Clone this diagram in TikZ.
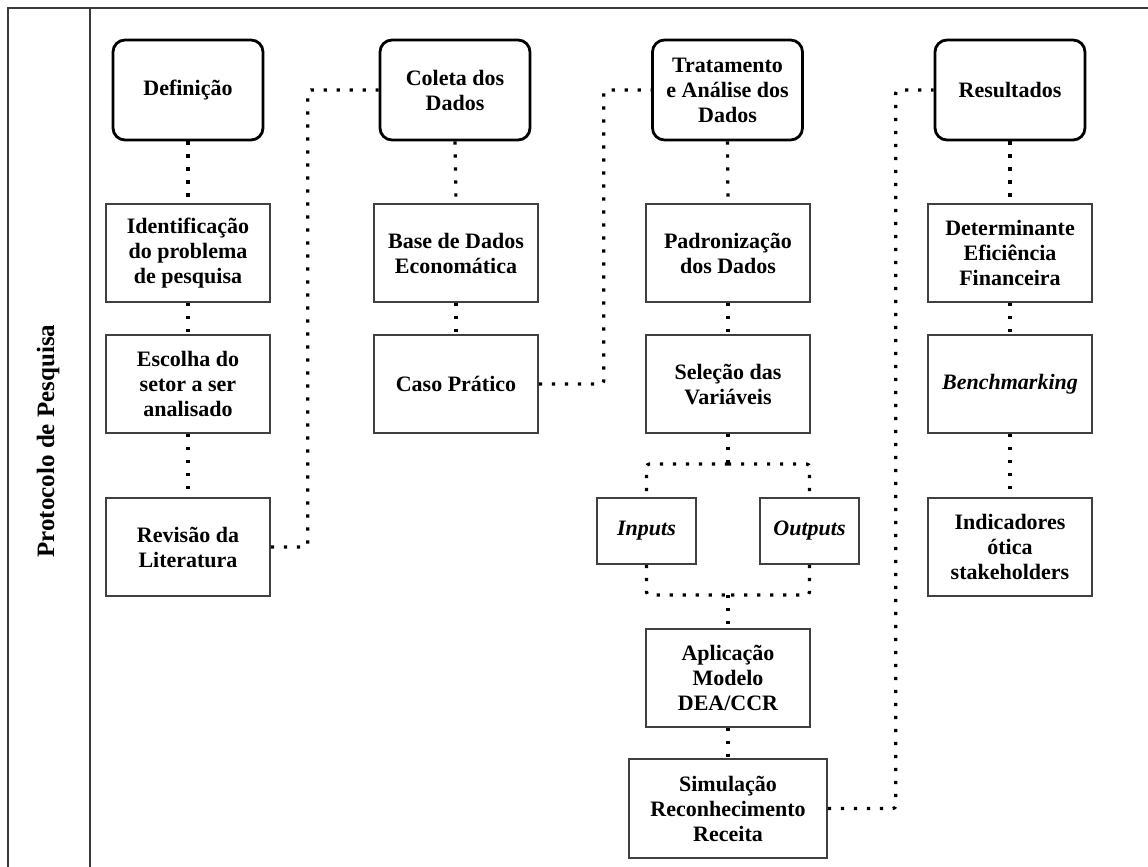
\documentclass[tikz,border=0pt]{standalone}
\usepackage{fontspec}
\setmainfont{Liberation Serif}
\usetikzlibrary{calc}
\definecolor{frameline}{HTML}{3A3A3A}
\definecolor{boxline}{HTML}{404040}
\begin{document}
\begin{tikzpicture}[x=1pt,y=-1pt,
  txt/.style={font=\fontsize{22}{25}\selectfont\bfseries, text=black},
  phase/.style={txt, draw=black, line width=2.8pt, rounded corners=12pt,
    minimum width=150pt, minimum height=100pt, align=center, inner sep=2pt},
  stepbox/.style={txt, draw=boxline, line width=1.6pt,
    minimum width=164pt, minimum height=98pt, align=center, inner sep=2pt},
  smallbox/.style={stepbox, minimum width=99pt, minimum height=66pt},
  conn/.style={line width=3.2pt, dash pattern=on 3.2pt off 9.8pt, rounded corners=3pt},
  frame/.style={draw=frameline, line width=1.6pt}]
\useasboundingbox (0,0) rectangle (1148,867);

% outer frame and title column
\draw[frame] (8,867) -- (8,8) -- (1148,8);
\draw[frame] (90,8) -- (90,867);
\node[font=\fontsize{25}{29}\selectfont\bfseries, rotate=90] (title) at (48,441) {Protocolo de Pesquisa};

% phase headers
\node[phase] (def) at (188,90) {Definição};
\node[phase] (col) at (455,90) {Coleta dos\\Dados};
\node[phase] (trat) at (727.5,90) {Tratamento\\e Análise dos\\Dados};
\node[phase] (res) at (1010,90) {Resultados};

% column 1
\node[stepbox] (ident) at (188,253) {Identificação\\do problema\\de pesquisa};
\node[stepbox] (esc) at (188,384) {Escolha do\\setor a ser\\analisado};
\node[stepbox] (rev) at (188,547) {Revisão da\\Literatura};

% column 2
\node[stepbox] (base) at (456,253) {Base de Dados\\Economática};
\node[stepbox] (caso) at (456,384) {Caso Prático};

% column 3
\node[stepbox] (pad) at (728,253) {Padronização\\dos Dados};
\node[stepbox] (sel) at (728,384) {Seleção das\\Variáveis};
\node[smallbox] (inp) at (646.5,531) {\itshape Inputs};
\node[smallbox] (out) at (809.5,531) {\itshape Outputs};
\node[stepbox] (apl) at (728,678) {Aplicação\\Modelo\\DEA/CCR};
\node[stepbox, minimum width=198pt, minimum height=99pt] (sim) at (728,808.5) {Simulação\\Reconhecimento\\Receita};

% column 4
\node[stepbox] (det) at (1010,253) {Determinante\\Eficiência\\Financeira};
\node[stepbox] (bench) at (1010,384) {\itshape Benchmarking};
\node[stepbox] (ind) at (1010,547) {Indicadores\\ótica\\stakeholders};

% vertical links inside each column
\draw[conn] (def.south) -- (ident.north);
\draw[conn] (ident.south) -- (esc.north);
\draw[conn] (esc.south) -- (rev.north);
\draw[conn] (col.south) -- (base.north);
\draw[conn] (base.south) -- (caso.north);
\draw[conn] (trat.south) -- (pad.north);
\draw[conn] (pad.south) -- (sel.north);
\draw[conn] (apl.south) -- (sim.north);
\draw[conn] (res.south) -- (det.north);
\draw[conn] (det.south) -- (bench.north);
\draw[conn] (bench.south) -- (ind.north);

% split into inputs / outputs and join again
\coordinate (split) at (728,464);
\coordinate (join) at (728,595);
\draw[conn] (sel.south) -- (split);
\draw[conn] (split) -| (inp.north);
\draw[conn] (split) -| (out.north);
\draw[conn] (inp.south) |- (join);
\draw[conn] (out.south) |- (join);
\draw[conn] (join) -- (apl.north);

% links between phases
\draw[conn] (rev.east) -- ++(37,0) |- (col.west);
\draw[conn] (caso.east) -- ++(65,0) |- (trat.west);
\draw[conn] (sim.east) -- ++(68,0) |- (res.west);
\end{tikzpicture}
\end{document}
